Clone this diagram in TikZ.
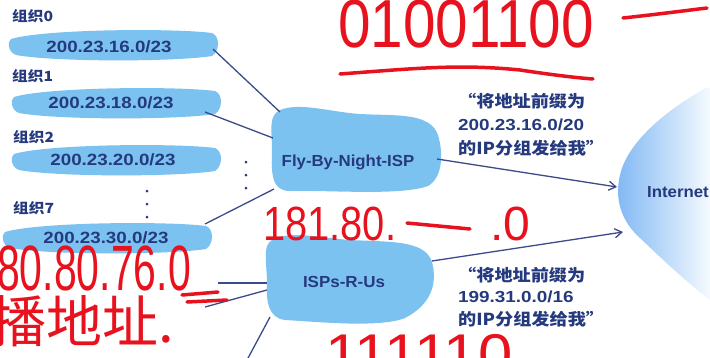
\documentclass[tikz,border=0pt]{standalone}
\usepackage{fontspec}
\usepackage{graphicx}
\setmainfont{Liberation Sans}
\newfontfamily\cjk{Noto Sans CJK SC}
\usetikzlibrary{arrows.meta}
\definecolor{blobblue}{HTML}{7CC2F1}
\definecolor{navy}{HTML}{253A7E}
\definecolor{linec}{HTML}{3C4A8A}
\definecolor{inkred}{HTML}{E8121F}
\newcommand\hx[2]{\scalebox{#1}[1]{#2}}
\newcommand\orgblob[2]{\fill[blobblue, shift={(#1,#2)}] (-103,-6) .. controls (-70,-16) and (60,-17) .. (98,-12) .. controls (106,-9) and (106,6) .. (98,11) .. controls (60,17) and (-60,17) .. (-98,10) .. controls (-106,7) and (-107,-3) .. cycle;}
\tikzset{
 orgtext/.style={font=\fontsize{16.3}{18}\selectfont\bfseries, text=navy, inner sep=0},
 isptext/.style={font=\fontsize{16}{18}\selectfont\bfseries, text=navy, inner sep=0},
 lbl/.style={font=\cjk\fontsize{14}{16}\selectfont\bfseries, text=navy, anchor=west, inner sep=0},
 link/.style={draw=linec, line width=1.3pt},
 arr/.style={link, -{Straight Barb[length=7pt,width=9pt,line width=1.3pt]}},
 quoteline/.style={font=\cjk\fontsize{16.5}{18}\selectfont\bfseries, text=navy, anchor=west, inner sep=0},
 numline/.style={font=\fontsize{16}{18}\selectfont\bfseries, text=navy, anchor=west, inner sep=0},
 ink/.style={text=inkred, inner sep=0},
 inkline/.style={draw=inkred, line width=3.5pt, line cap=round},
 vdot/.style={circle, fill=navy, inner sep=0, minimum size=3pt}
}
\begin{document}
\begin{tikzpicture}[x=1pt,y=-1pt]
\useasboundingbox (0,0) rectangle (710,357);
\clip (0,0) rectangle (710,357);
\fill[white] (0,0) rectangle (710,357);
% Internet
\shade[left color=blobblue!90!blue!90, right color=blobblue!6] (706,88) .. controls (670,108) and (628,140) .. (620,175) .. controls (614,200) and (622,222) .. (640,238) .. controls (665,262) and (690,285) .. (710,300) -- (712,300) -- (712,88) -- cycle;
\node[isptext, anchor=west] (inet) at (647,192) {\hx{1.05}{Internet}};
% organisation blobs
\orgblob{114}{45}
\orgblob{117}{103}
\orgblob{117}{160}
\orgblob{108}{238}
\node[lbl] (l0) at (12,16) {\hx{1.12}{组织0}};
\node[lbl] (l1) at (12,76) {\hx{1.12}{组织1}};
\node[lbl] (l2) at (13,137) {\hx{1.12}{组织2}};
\node[lbl] (l7) at (13,208) {\hx{1.12}{组织7}};
\node[orgtext] (o0) at (109,47) {\hx{1.15}{200.23.16.0/23}};
\node[orgtext] (o1) at (111,103) {\hx{1.15}{200.23.18.0/23}};
\node[orgtext] (o2) at (113,160) {\hx{1.15}{200.23.20.0/23}};
\node[orgtext] (o7) at (106,238) {\hx{1.15}{200.23.30.0/23}};
\node[vdot] (d1) at (147,191) {};
\node[vdot] (d2) at (147,204) {};
\node[vdot] (d3) at (147,217) {};
% ISP clouds
\fill[blobblue] (280,110) .. controls (300,102) and (330,112) .. (360,114) .. controls (395,116) and (430,112) .. (438,135) .. controls (444,155) and (442,178) .. (428,186) .. controls (400,196) and (330,190) .. (290,191) .. controls (272,191) and (271,175) .. (272,150) .. controls (272,130) and (268,116) .. (280,110) -- cycle;
\node[isptext] (fbn) at (348,162) {\hx{1.05}{Fly-By-Night-ISP}};
\fill[blobblue] (272,240) .. controls (290,230) and (320,238) .. (350,240) .. controls (390,242) and (425,240) .. (432,262) .. controls (438,285) and (430,305) .. (405,318) .. controls (380,328) and (320,322) .. (285,320) .. controls (268,318) and (266,300) .. (267,285) .. controls (267,262) and (262,246) .. (272,240) -- cycle;
\node[isptext] (isp) at (344,282) {\hx{1.06}{ISPs-R-Us}};
\node[vdot] (e1) at (246,162) {};
\node[vdot] (e2) at (246,175) {};
\node[vdot] (e3) at (246,188) {};
% connector end points
\coordinate (c0) at (213,49);  \coordinate (f0) at (280,112);
\coordinate (c1) at (205,112); \coordinate (f1) at (273,138);
\coordinate (c7) at (205,224); \coordinate (f7) at (274,189);
\coordinate (c8) at (218,283); \coordinate (g8) at (267,283);
\coordinate (c9) at (205,307); \coordinate (g9) at (267,290);
\coordinate (c10) at (247,360); \coordinate (g10) at (270,317);
\coordinate (fo) at (437,159); \coordinate (fi) at (617,187);
\coordinate (io) at (432,261); \coordinate (ii) at (623,232);
\draw[link] (c0) -- (f0);
\draw[link] (c1) -- (f1);
\draw[link] (c7) -- (f7);
\draw[link] (c8) -- (g8);
\draw[link] (c9) -- (g9);
\draw[link] (c10) -- (g10);
\draw[arr] (fo) -- (fi);
\draw[arr] (io) -- (ii);
% announcements
\node[quoteline] (q1a) at (458,101) {\hx{1.1}{“将地址前缀为}};
\node[numline] (q1b) at (458,125) {\hx{1.18}{200.23.16.0/20}};
\node[quoteline] (q1c) at (458,148) {\hx{1.1}{的IP分组发给我”}};
\node[quoteline] (q2a) at (458,275) {\hx{1.1}{“将地址前缀为}};
\node[numline] (q2b) at (458,297) {\hx{1.18}{199.31.0.0/16}};
\node[quoteline] (q2c) at (458,319) {\hx{1.1}{的IP分组发给我”}};
% red handwriting
\node[ink, anchor=base west, font=\fontsize{68}{68}\selectfont] (h1) at (338,47) {\hx{0.86}{01001100}};
\draw[inkline] (340,74) .. controls (420,68) and (460,64) .. (520,70) .. controls (560,76) and (580,78) .. (593,79);
\draw[inkline] (623,18) .. controls (660,14) and (690,10) .. (707,8);
\node[ink, anchor=base west, font=\fontsize{64}{64}\selectfont] (h2) at (-3,290) {\hx{0.64}{80.80.76.0}};
\draw[inkline] (182,295) -- (218,292);
\draw[inkline] (187,302) -- (227,300);
\node[ink, anchor=base west, font=\cjk\fontsize{56}{56}\selectfont] (h3) at (-10,342) {播地址.};
\node[ink, anchor=base west, font=\fontsize{48}{48}\selectfont] (h4) at (263,240) {\hx{0.83}{181.80.}};
\draw[inkline] (407,223) -- (470,229);
\node[ink, anchor=base west, font=\fontsize{48}{48}\selectfont] (h5) at (490,240) {.0};
\node[ink, anchor=base west, font=\fontsize{56}{56}\selectfont] (h6) at (325,373) {\hx{1.1}{111110}};
\end{tikzpicture}
\end{document}
